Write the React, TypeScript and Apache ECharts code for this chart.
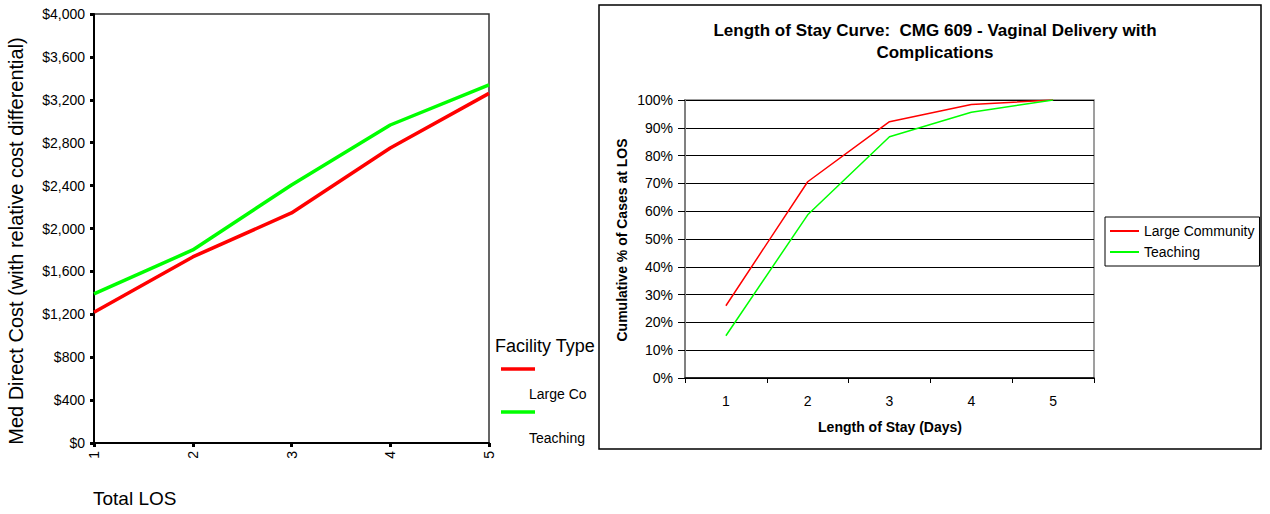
import React, { useEffect, useRef } from "react";
import * as echarts from "echarts";

// ---- Left chart data ----
const losDays = [1, 2, 3, 4, 5];
const costLargeCo = [1220, 1735, 2145, 2750, 3260];
const costTeaching = [1390, 1800, 2405, 2965, 3340];
const costTicks = { min: 0, max: 4000, interval: 400 };

// ---- Right chart data ----
const losCategories = ["1", "2", "3", "4", "5"];
const cumLargeCommunity = [0.26, 0.706, 0.922, 0.984, 1.0];
const cumTeaching = [0.152, 0.587, 0.868, 0.956, 1.0];

const FONT = "'Liberation Sans', Arial, sans-serif";
const RED = "#ff0000";
const GREEN = "#00ff00";

export default function App() {
  const leftRef = useRef<HTMLDivElement>(null);
  const rightRef = useRef<HTMLDivElement>(null);

  useEffect(() => {
    const left = echarts.init(leftRef.current!, undefined, { renderer: "svg" });
    const right = echarts.init(rightRef.current!, undefined, { renderer: "svg" });

    left.setOption({
      animation: false,
      backgroundColor: "#fff",
      textStyle: { fontFamily: FONT },
      grid: {
        left: 94,
        top: 14,
        width: 395,
        height: 429,
        show: true,
        borderColor: "#333",
        borderWidth: 1.5,
        backgroundColor: "transparent",
      },
      xAxis: {
        type: "value",
        min: 1,
        max: 5,
        interval: 1,
        axisLine: { show: true, lineStyle: { color: "#000", width: 2 } },
        axisTick: { show: true, length: 4, lineStyle: { color: "#000", width: 3 } },
        axisLabel: { rotate: 90, fontSize: 14, color: "#000", margin: 8, fontFamily: FONT },
        splitLine: { show: false },
      },
      yAxis: {
        type: "value",
        min: costTicks.min,
        max: costTicks.max,
        interval: costTicks.interval,
        axisLine: { show: true, lineStyle: { color: "#000", width: 2 } },
        axisTick: { show: true, length: 4, lineStyle: { color: "#000", width: 3 } },
        axisLabel: {
          fontSize: 14,
          color: "#000",
          margin: 9,
          fontFamily: FONT,
          formatter: (v: number) => "$" + v.toLocaleString("en-US"),
        },
        splitLine: { show: false },
      },
      series: [
        {
          name: "Large Co (cost)",
          type: "line",
          symbol: "none",
          lineStyle: { color: RED, width: 3.5 },
          data: losDays.map((d, i) => [d, costLargeCo[i]]),
        },
        {
          name: "Teaching (cost)",
          type: "line",
          symbol: "none",
          lineStyle: { color: GREEN, width: 3.5 },
          data: losDays.map((d, i) => [d, costTeaching[i]]),
        },
      ],
      graphic: [
        {
          type: "text",
          x: 16,
          y: 241,
          rotation: Math.PI / 2,
          style: {
            text: "Med Direct Cost (with relative cost differential)",
            fontSize: 20,
            fontFamily: FONT,
            fill: "#000",
            align: "center",
            verticalAlign: "middle",
          },
        },
        {
          type: "text",
          x: 93,
          y: 498,
          style: {
            text: "Total LOS",
            fontSize: 19,
            fontFamily: FONT,
            fill: "#000",
            align: "left",
            verticalAlign: "middle",
          },
        },
        {
          type: "text",
          x: 495,
          y: 346,
          style: {
            text: "Facility Type",
            fontSize: 18,
            fontFamily: FONT,
            fill: "#000",
            align: "left",
            verticalAlign: "middle",
          },
        },
        {
          type: "line",
          shape: { x1: 501, y1: 369, x2: 535, y2: 369 },
          style: { stroke: RED, lineWidth: 3.5 },
        },
        {
          type: "text",
          x: 529,
          y: 394,
          style: {
            text: "Large Co",
            fontSize: 14,
            fontFamily: FONT,
            fill: "#000",
            align: "left",
            verticalAlign: "middle",
          },
        },
        {
          type: "line",
          shape: { x1: 501, y1: 412, x2: 535, y2: 412 },
          style: { stroke: GREEN, lineWidth: 3.5 },
        },
        {
          type: "text",
          x: 529,
          y: 438,
          style: {
            text: "Teaching",
            fontSize: 14,
            fontFamily: FONT,
            fill: "#000",
            align: "left",
            verticalAlign: "middle",
          },
        },
      ],
    });

    right.setOption({
      animation: false,
      backgroundColor: "#fff",
      textStyle: { fontFamily: FONT },
      title: {
        text: "Length of Stay Curve:  CMG 609 - Vaginal Delivery with\nComplications",
        left: 332,
        top: 14,
        textAlign: "center",
        textStyle: { fontSize: 17, fontWeight: "bold", color: "#000", fontFamily: FONT, lineHeight: 22 },
      },
      grid: {
        left: 87,
        top: 100,
        width: 409,
        height: 278,
        show: true,
        borderColor: "#808080",
        borderWidth: 1.5,
        backgroundColor: "transparent",
      },
      legend: {
        left: 507,
        top: 217,
        orient: "vertical",
        data: [
          { name: "Large Community", icon: "rect" },
          { name: "Teaching", icon: "rect" },
        ],
        borderColor: "#000",
        borderWidth: 1,
        padding: [6, 5, 6, 5],
        itemGap: 5,
        itemWidth: 29,
        itemHeight: 2,
        itemTextGap: 4,
        textStyle: { fontSize: 14, color: "#000", fontFamily: FONT, lineHeight: 16 },
      },
      xAxis: {
        type: "category",
        data: losCategories,
        boundaryGap: true,
        axisLine: { show: true, lineStyle: { color: "#000", width: 1.5 } },
        axisTick: { show: true, interval: 0, length: 5, lineStyle: { color: "#000" } },
        axisLabel: { fontSize: 14, color: "#000", margin: 16, fontFamily: FONT },
        splitLine: { show: false },
      },
      yAxis: {
        type: "value",
        min: 0,
        max: 1,
        interval: 0.1,
        axisLine: { show: true, lineStyle: { color: "#808080", width: 2 } },
        axisTick: { show: true, length: 7, lineStyle: { color: "#000" } },
        axisLabel: {
          fontSize: 14,
          color: "#000",
          margin: 12,
          fontFamily: FONT,
          formatter: (v: number) => Math.round(v * 100) + "%",
        },
        splitLine: { show: true, lineStyle: { color: "#000", width: 1 } },
      },
      series: [
        {
          name: "Large Community",
          type: "line",
          symbol: "none",
          lineStyle: { color: RED, width: 1.5 },
          itemStyle: { color: RED },
          data: cumLargeCommunity,
        },
        {
          name: "Teaching",
          type: "line",
          symbol: "none",
          lineStyle: { color: GREEN, width: 1.5 },
          itemStyle: { color: GREEN },
          data: cumTeaching,
        },
      ],
      graphic: [
        {
          type: "rect",
          shape: { x: 1, y: 5, width: 662, height: 444 },
          style: { fill: "none", stroke: "#000", lineWidth: 1.5 },
          silent: true,
        },
        {
          type: "text",
          x: 24,
          y: 240,
          rotation: Math.PI / 2,
          style: {
            text: "Cumulative % of Cases at LOS",
            fontSize: 14,
            fontWeight: "bold",
            fontFamily: FONT,
            fill: "#000",
            align: "center",
            verticalAlign: "middle",
          },
        },
        {
          type: "text",
          x: 292,
          y: 427,
          style: {
            text: "Length of Stay (Days)",
            fontSize: 14,
            fontWeight: "bold",
            fontFamily: FONT,
            fill: "#000",
            align: "center",
            verticalAlign: "middle",
          },
        },
      ],
    });

    return () => {
      left.dispose();
      right.dispose();
    };
  }, []);

  return (
    <div style={{ position: "absolute", left: 0, top: 0, width: 1270, height: 514, background: "#fff" }}>
      <div ref={leftRef} style={{ position: "absolute", left: 0, top: 0, width: 599, height: 514 }} />
      <div ref={rightRef} style={{ position: "absolute", left: 598, top: 0, width: 672, height: 514 }} />
    </div>
  );
}
